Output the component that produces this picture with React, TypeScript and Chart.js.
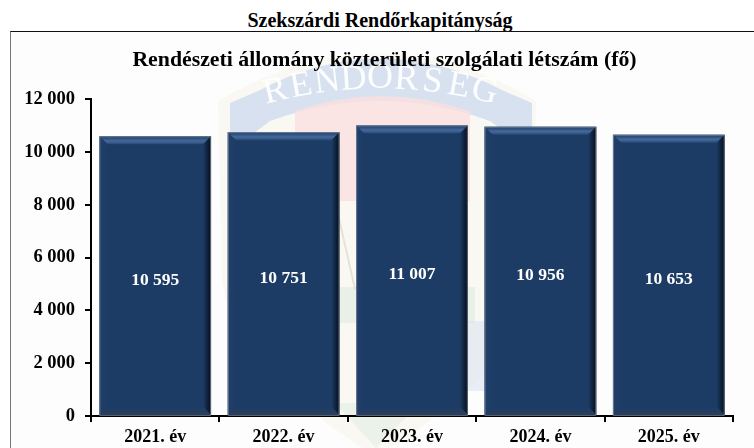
import React, { useEffect, useRef } from "react";
import { Chart, registerables } from "chart.js";

Chart.register(...registerables);

const categories = ["2021. év", "2022. év", "2023. év", "2024. év", "2025. év"];
const values = [10595, 10751, 11007, 10956, 10653];
const yMax = 12000;
const yStep = 2000;
const pageTitle = "Szekszárdi Rendőrkapitányság";
const chartTitle = "Rendészeti állomány közterületi szolgálati létszám (fő)";
const watermarkText = "RENDŐRSÉG";

const FONT = '"Liberation Serif"';
const fmt = (v: number) => String(v).replace(/\B(?=(\d{3})+$)/g, " ");

const titleShift = {
  id: "titleShift",
  afterLayout(chart: any) {
    const t = chart.titleBlock;
    t.left += 13;
    t.right += 13;
  },
};

const barStyle = {
  id: "barStyle",
  afterDatasetsDraw(chart: any) {
    const { ctx } = chart;
    const meta = chart.getDatasetMeta(0);
    meta.data.forEach((bar: any, i: number) => {
      const l = bar.x - bar.width / 2, r = bar.x + bar.width / 2, t = bar.y, b = bar.base;
      const d = 8;
      ctx.save();
      const poly = (pts: number[][], fill: any) => {
        ctx.beginPath();
        pts.forEach((p, k) => (k ? ctx.lineTo(p[0], p[1]) : ctx.moveTo(p[0], p[1])));
        ctx.closePath();
        ctx.fillStyle = fill;
        ctx.fill();
      };
      const top = ctx.createLinearGradient(0, t, 0, t + d);
      top.addColorStop(0, "#1c3c66");
      top.addColorStop(0.6, "#46699a");
      top.addColorStop(1, "#274a78");
      poly([[l, t], [r, t], [r - d, t + d], [l + d, t + d]], top);
      const right = ctx.createLinearGradient(r - d, 0, r, 0);
      right.addColorStop(0, "#1c3c66");
      right.addColorStop(1, "#050d18");
      poly([[r, t], [r, b], [r - d, b - d], [r - d, t + d]], right);
      const left = ctx.createLinearGradient(l, 0, l + d, 0);
      left.addColorStop(0, "#223f68");
      left.addColorStop(1, "#1c3c66");
      poly([[l, t], [l + d, t + d], [l + d, b - d], [l, b]], left);
      const bottom = ctx.createLinearGradient(0, b - d, 0, b);
      bottom.addColorStop(0, "#1c3c66");
      bottom.addColorStop(1, "#2a3f5c");
      poly([[l, b], [l + d, b - d], [r - d, b - d], [r, b]], bottom);
      ctx.strokeStyle = "rgba(150,160,175,0.6)";
      ctx.lineWidth = 1;
      ctx.strokeRect(l + 0.5, t + 0.5, bar.width - 1, b - t);
      ctx.fillStyle = "#ffffff";
      ctx.font = `bold 17.5px ${FONT}`;
      ctx.textAlign = "center";
      ctx.textBaseline = "middle";
      ctx.fillText(fmt(values[i]), bar.x, (t + b) / 2 + 4.5);
      ctx.restore();
    });
  },
};

const watermark = {
  id: "watermark",
  beforeDraw(chart: any) {
    const { ctx } = chart;
    ctx.save();
    // outer pale shield
    ctx.beginPath();
    ctx.moveTo(208, 70);
    ctx.quadraticCurveTo(370, -25, 526, 70);
    ctx.lineTo(522, 250);
    ctx.quadraticCurveTo(510, 340, 366, 425);
    ctx.quadraticCurveTo(225, 340, 212, 250);
    ctx.closePath();
    ctx.fillStyle = "rgba(244,240,222,0.32)";
    ctx.fill();
    // blue band
    ctx.beginPath();
    ctx.moveTo(220, 72);
    ctx.lineTo(248, 60);
    ctx.quadraticCurveTo(370, -5, 494, 60);
    ctx.lineTo(522, 72);
    ctx.lineTo(522, 120);
    ctx.lineTo(480, 90);
    ctx.quadraticCurveTo(370, 50, 260, 90);
    ctx.lineTo(220, 120);
    ctx.closePath();
    ctx.fillStyle = "rgba(206,219,238,0.8)";
    ctx.fill();
    // red field
    ctx.beginPath();
    ctx.moveTo(285, 80);
    ctx.quadraticCurveTo(370, 50, 460, 80);
    ctx.lineTo(460, 170);
    ctx.lineTo(285, 170);
    ctx.closePath();
    ctx.fillStyle = "rgba(250,224,224,0.8)";
    ctx.fill();
    // green band and lower blue
    ctx.fillStyle = "rgba(218,234,222,0.6)";
    ctx.fillRect(325, 256, 140, 36);
    ctx.fillStyle = "rgba(222,230,242,0.7)";
    ctx.fillRect(440, 290, 50, 70);
    ctx.fillStyle = "rgba(218,234,222,0.45)";
    ctx.beginPath();
    ctx.moveTo(325, 372);
    ctx.lineTo(410, 372);
    ctx.lineTo(366, 417);
    ctx.closePath();
    ctx.fill();
    // pale lines
    ctx.strokeStyle = "rgba(210,205,190,0.5)";
    ctx.lineWidth = 2;
    ctx.beginPath();
    ctx.moveTo(325, 170);
    ctx.lineTo(345, 258);
    ctx.stroke();
    // arched lettering
    ctx.font = `36px ${FONT}`;
    ctx.textAlign = "center";
    ctx.textBaseline = "middle";
    ctx.fillStyle = "rgba(255,255,255,0.95)";
    const cx = 370, cy = 488, rad = 440, stepA = 0.06;
    const chars = Array.from(watermarkText);
    chars.forEach((c, i) => {
      const a = (i - (chars.length - 1) / 2) * stepA;
      ctx.save();
      ctx.translate(cx + rad * Math.sin(a), cy - rad * Math.cos(a));
      ctx.rotate(a);
      ctx.fillText(c, 0, 0);
      ctx.restore();
    });
    ctx.restore();
  },
};

export default function App() {
  const ref = useRef<HTMLCanvasElement>(null);
  useEffect(() => {
    const chart = new Chart(ref.current!, {
      type: "bar",
      data: {
        labels: categories,
        datasets: [{ data: values, backgroundColor: "#1c3c66", barPercentage: 1, categoryPercentage: 0.87 }],
      },
      options: {
        animation: false,
        responsive: false,
        layout: { padding: { left: 0, right: 21, top: 0, bottom: 0 } },
        plugins: {
          legend: { display: false },
          tooltip: { enabled: false },
          title: {
            display: true,
            text: chartTitle,
            color: "#000",
            font: { family: FONT, size: 21.8, weight: "bold" },
            padding: { top: 16, bottom: 26 },
          },
        },
        scales: {
          x: {
            afterFit: (s: any) => { s.height = 32; },
            grid: { display: true, drawOnChartArea: false, color: "#000", lineWidth: 2, tickLength: 6, offset: true },
            border: { color: "#000", width: 2 },
            ticks: { color: "#000", font: { family: FONT, size: 18, weight: "bold" }, padding: 5, maxRotation: 0 },
          },
          y: {
            min: 0,
            max: yMax,
            afterFit: (s: any) => { s.width = 81; },
            grid: { display: true, drawOnChartArea: false, color: "#000", lineWidth: 2, tickLength: 6 },
            border: { color: "#000", width: 2 },
            ticks: {
              stepSize: yStep,
              color: "#000",
              font: { family: FONT, size: 18.5, weight: "bold" },
              padding: 10,
              callback: (v: any) => fmt(Number(v)),
            },
          },
        },
      },
      plugins: [titleShift, watermark, barStyle],
    } as any);
    return () => chart.destroy();
  }, []);
  return (
    <div style={{ position: "absolute", left: 0, top: 0, width: 754, height: 448, overflow: "hidden", background: "#fff" }}>
      <div
        style={{
          position: "absolute", left: 0, top: 9, width: 760, textAlign: "center",
          font: `bold 20px ${FONT}`, color: "#000", lineHeight: "22px",
        }}
      >
        {pageTitle}
      </div>
      <div
        style={{
          position: "absolute", left: 10, top: 31, width: 760, height: 430, boxSizing: "border-box",
          borderLeft: "1px solid #777", borderTop: "1px solid #111", background: "#fdfdfd",
        }}
      />
      <canvas ref={ref} width={744} height={417} style={{ position: "absolute", left: 10, top: 31, width: 744, height: 417 }} />
    </div>
  );
}
